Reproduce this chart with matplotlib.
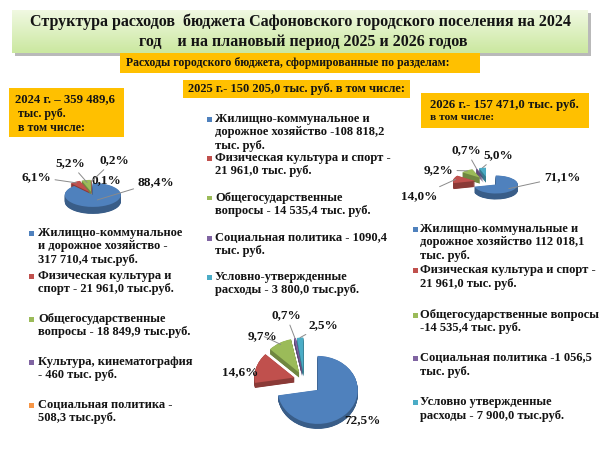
import numpy as np
import matplotlib
matplotlib.use('Agg')
import matplotlib.pyplot as plt
from matplotlib.patches import Rectangle
import matplotlib.colors as mcolors

W, H = 600, 450
FONT = ['Liberation Serif', 'DejaVu Serif']
TXT = '#141414'

# ---------------- data ----------------
title_lines = ["Структура расходов  бюджета Сафоновского городского поселения на 2024",
               "год    и на плановый период 2025 и 2026 годов"]
subtitle = "Расходы городского бюджета, сформированные по разделам:"

hdr_2024 = ["2024 г. – 359 489,6", " тыс. руб.", " в том числе:"]
hdr_2025 = "2025 г.- 150 205,0 тыс. руб. в том числе:"
hdr_2026 = ["2026 г.- 157 471,0 тыс. руб.", "в том числе:"]

values_2024 = [317710.4, 21961.0, 18849.9, 460.0, 508.3]
pct_2024 = ["88,4%", "6,1%", "5,2%", "0,1%", "0,2%"]
colors_2024 = ['#4F81BD', '#C0504D', '#9BBB59', '#8064A2', '#F79646']
legend_2024 = ["Жилищно-коммунальное\nи дорожное хозяйство -\n317 710,4 тыс.руб.",
               "Физическая культура и\nспорт - 21 961,0 тыс.руб.",
               "Общегосударственные\nвопросы - 18 849,9 тыс.руб.",
               "Культура, кинематография\n- 460 тыс. руб.",
               "Социальная политика -\n508,3 тыс.руб."]

values_2025 = [108818.2, 21961.0, 14535.4, 1090.4, 3800.0]
pct_2025 = ["72,5%", "14,6%", "9,7%", "0,7%", "2,5%"]
colors_2025 = ['#4F81BD', '#C0504D', '#9BBB59', '#8064A2', '#4BACC6']
legend_2025 = ["Жилищно-коммунальное и\nдорожное хозяйство -108 818,2\nтыс. руб.",
               "Физическая культура и спорт -\n21 961,0 тыс. руб.",
               "Общегосударственные\nвопросы - 14 535,4 тыс. руб.",
               "Социальная политика - 1090,4\nтыс. руб.",
               "Условно-утвержденные\nрасходы - 3 800,0 тыс.руб."]

values_2026 = [112018.1, 21961.0, 14535.4, 1056.5, 7900.0]
pct_2026 = ["71,1%", "14,0%", "9,2%", "0,7%", "5,0%"]
colors_2026 = ['#4F81BD', '#C0504D', '#9BBB59', '#8064A2', '#4BACC6']
legend_2026 = ["Жилищно-коммунальные и\nдорожное хозяйство 112 018,1\nтыс. руб.",
               "Физическая культура и спорт -\n21 961,0 тыс. руб.",
               "Общегосударственные вопросы\n-14 535,4 тыс. руб.",
               "Социальная политика -1 056,5\nтыс. руб.",
               "Условно утвержденные\nрасходы - 7 900,0 тыс.руб."]

# ---------------- helpers ----------------
fig = plt.figure(figsize=(6, 4.5), dpi=100)
fig.patch.set_facecolor('white')


def fx(x):
    return x / W


def fy(y):
    return 1 - y / H


def rect(x0, y0, x1, y1, color, z=2.5, **kw):
    fig.patches.append(Rectangle((fx(x0), fy(y1)), (x1 - x0) / W, (y1 - y0) / H,
                                 transform=fig.transFigure, facecolor=color,
                                 edgecolor='none', zorder=z, **kw))


def text(x, y, s, size, ha='left', va='center', **kw):
    fig.text(fx(x), fy(y), s, fontsize=size, fontweight='bold', family=FONT,
             color=TXT, ha=ha, va=va, **kw)


def darken(c, f=0.72):
    r, g, b = mcolors.to_rgb(c)
    return (r * f, g * f, b * f)


def pie3d(cx, cy, rx, ry, depth, values, colors, explode, labels, label_pos,
          leaders, lsize):
    L = 2.6
    ax = fig.add_axes([(cx - L * rx) / W, 1 - (cy + L * ry) / H,
                       2 * L * rx / W, 2 * L * ry / H])
    d = depth / ry
    n = 16
    side = [darken(c) for c in colors]
    for k in range(n, 0, -1):
        ax.pie(values, colors=side, explode=explode, startangle=90,
               counterclock=False, center=(0, -d * k / n),
               wedgeprops=dict(linewidth=0))
    wedges, _ = ax.pie(values, colors=colors, explode=explode, startangle=90,
                       counterclock=False, wedgeprops=dict(linewidth=0))
    ax.set_aspect('auto')
    ax.set_xlim(-L, L)
    ax.set_ylim(-L, L)
    ax.set_axis_off()
    ax.patch.set_visible(False)
    for w, lab, (lx, ly), lead in zip(wedges, labels, label_pos, leaders):
        if lead is None:
            ax.annotate(lab, xy=(0, 0), xytext=(lx, H - ly),
                        textcoords='figure pixels', ha='center', va='center',
                        fontsize=lsize, fontweight='bold', family=FONT,
                        color=TXT, annotation_clip=False)
        else:
            a = np.deg2rad((w.theta1 + w.theta2) / 2)
            c0 = w.center
            xy = (c0[0] + lead * w.r * np.cos(a), c0[1] + lead * w.r * np.sin(a))
            ax.annotate(lab, xy=xy, xycoords='data', xytext=(lx, H - ly),
                        textcoords='figure pixels', ha='center', va='center',
                        fontsize=lsize, fontweight='bold', family=FONT,
                        color=TXT, annotation_clip=False,
                        arrowprops=dict(arrowstyle='-', color='#8a8a8a', lw=0.7,
                                        shrinkA=1, shrinkB=0))
    return ax


def legend(x_marker, x_text, y_items, dy, labels, colors, size):
    for lab, col, y0 in zip(labels, colors, y_items):
        rect(x_marker - 2.5, y0 - 2.5, x_marker + 2.5, y0 + 2.5, col, z=3)
        for i, line in enumerate(lab.split('\n')):
            text(x_text, y0 + i * dy, line, size)


# ---------------- title box ----------------
rect(15, 13, 591, 56, '#b9b9b9', z=1)
tax = fig.add_axes([fx(12), fy(53), (588 - 12) / W, (53 - 10) / H], zorder=2)
grad = np.linspace(0, 1, 64)[:, None]
cmap = mcolors.LinearSegmentedColormap.from_list('g', ['#F1F9E3', '#CBE8A0'])
tax.imshow(grad, aspect='auto', cmap=cmap, extent=(0, 1, 0, 1), origin='upper')
tax.set_axis_off()
text(300, 22, title_lines[0], 11.5, ha='center', zorder=5)
text(303, 42, title_lines[1], 11.5, ha='center', zorder=5)

# subtitle
rect(120, 53, 480, 73, '#FFC000', z=3)
text(126, 63, subtitle, 8.5, zorder=5)

# headers
rect(9, 88, 124, 137, '#FFC000')
for i, s in enumerate(hdr_2024):
    text(15, 99 + i * 14.5, s, 9.2 if i == 0 else 8.6)
rect(183, 80, 410, 98, '#FFC000')
text(297, 89, hdr_2025, 8.9, ha='center')
rect(421, 93, 589, 128, '#FFC000')
text(430, 105, hdr_2026[0], 9.2)
text(430, 118, hdr_2026[1], 8.2)

# ---------------- pies ----------------
pie3d(92, 194, 28, 12, 7, values_2024, colors_2024,
      [0.08, 0.18, 0.18, 0.18, 0.18], pct_2024,
      [(156, 182), (36, 177), (70, 163), (106, 180), (114, 160)],
      [0.45, 0.9, 0.8, None, 0.9], 9.5)

pie3d(304, 380, 40, 34, 5, values_2025, colors_2025,
      [0.45, 0.25, 0.25, 0.25, 0.25], pct_2025,
      [(362, 420), (240, 372), (263, 336), (286, 315), (323, 325)],
      [None, None, 0.95, 1.0, 1.0], 9.5)

pie3d(488, 182, 22, 9, 6, values_2026, colors_2026,
      [0.45, 0.6, 0.6, 0.6, 0.6], pct_2026,
      [(562, 177), (419, 196), (438, 170), (466, 150), (498, 155)],
      [0.75, 0.9, 0.95, 1.0, 1.0], 9.5)

# ---------------- legends ----------------
legend(31, 38, [233, 276, 319, 362, 405], 13.3, legend_2024, colors_2024, 9)
legend(209, 215, [119, 158, 198, 238, 277], 13.3, legend_2025, colors_2025, 9)
legend(415, 420, [229, 270, 315, 358, 402], 13.5, legend_2026, colors_2026, 9)

fig.savefig('out.png', dpi=100, facecolor='white')
